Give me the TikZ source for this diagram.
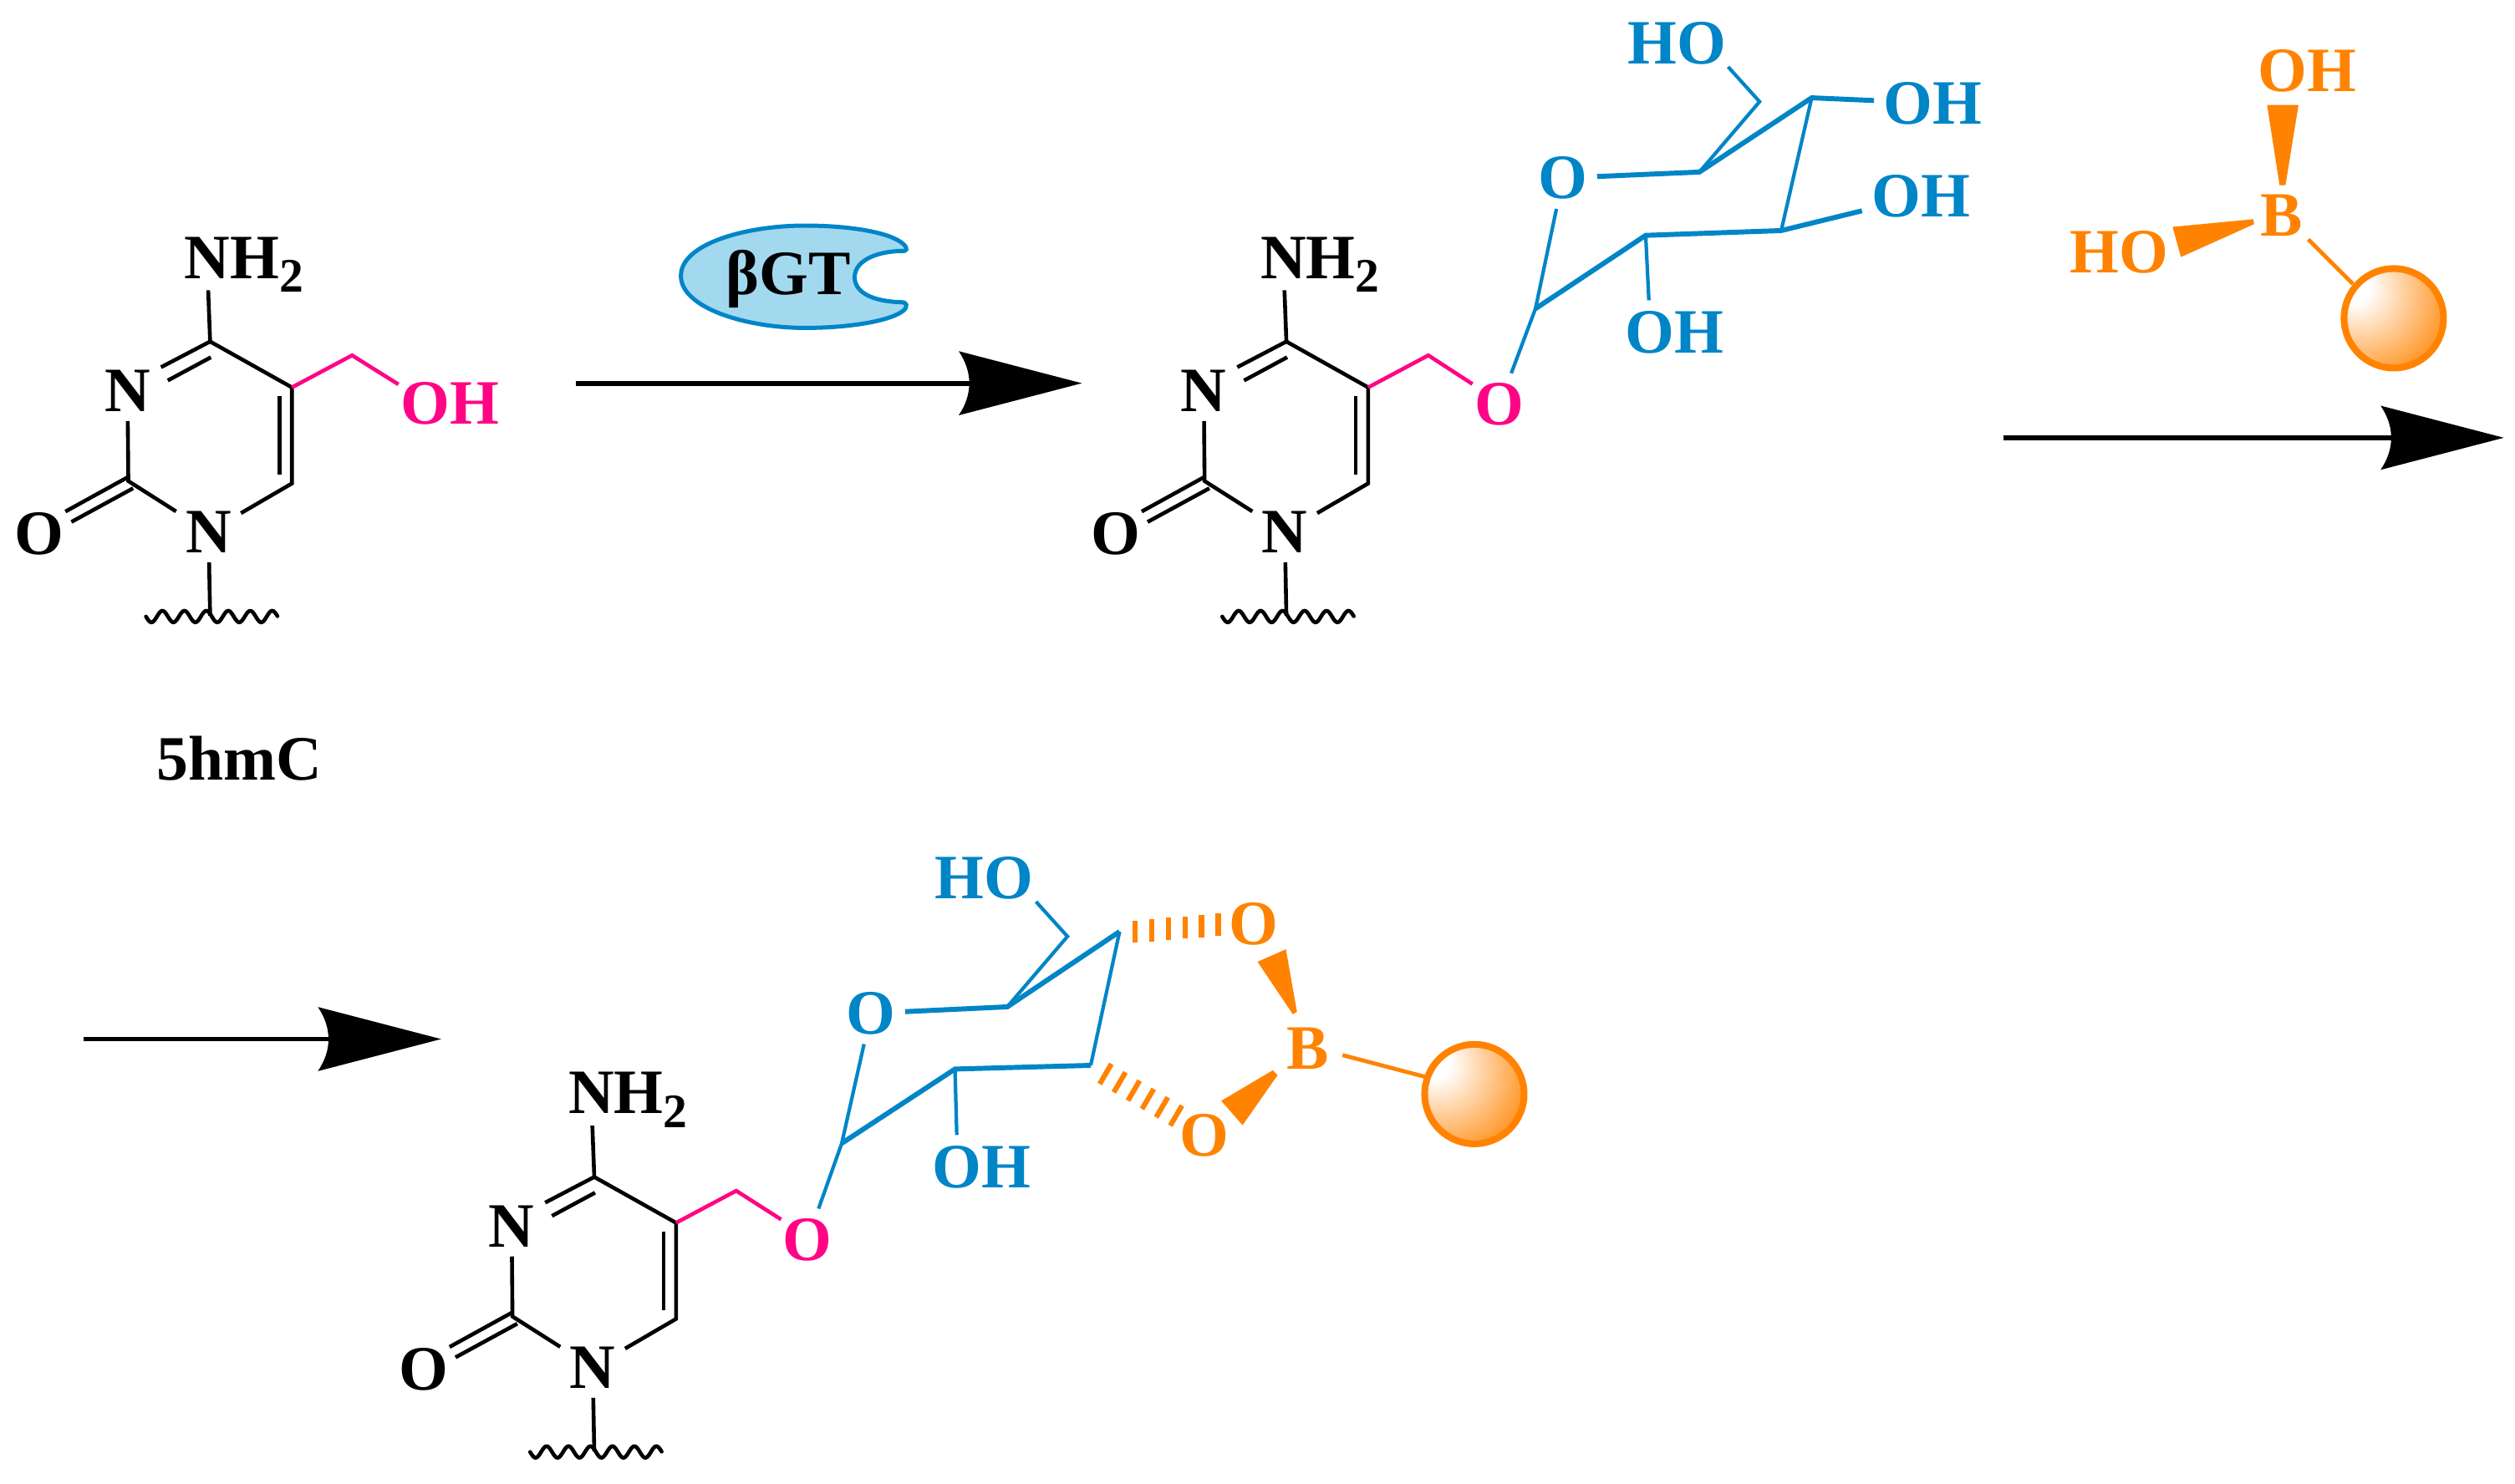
\documentclass[tikz,border=0pt]{standalone}
\usepackage{fontspec}
\setmainfont{Liberation Serif}
\definecolor{pinkc}{HTML}{FF0585}
\definecolor{bluec}{HTML}{0085C7}
\definecolor{orngc}{HTML}{FF8300}
\definecolor{enzc}{HTML}{A2D9EF}
\pgfdeclareradialshading{orb}{\pgfpoint{-22bp}{17bp}}{color(0bp)=(white);color(8bp)=(white);color(24bp)=(orngc!42);color(38bp)=(orngc!78);color(50bp)=(orngc);color(100bp)=(orngc)}
\tikzset{
  atom/.style={inner sep=0pt,outer sep=3pt,font=\fontsize{19.7}{20}\selectfont\bfseries},
  bond/.style={line width=1.2pt,line join=miter,black},
  thin bond/.style={line width=1.1pt},
  thick bond/.style={line width=1.55pt,line cap=butt},
  reactline/.style={line width=1.5pt,black},
  hash/.style={line width=1.6pt,orngc},
  pyr/.pic={
    \coordinate (-c4) at (131,213);
    \coordinate (-c5) at (182,241.6);
    \coordinate (-c6) at (182,301.5);
    \coordinate (-c2) at (80,300);
    \node[atom] (-n3) at (79.5,243.7) {N};
    \node[atom] (-n1) at (130,331.8) {N};
    \node[atom] (-o) at (24.4,333) {O};
    \node[atom,anchor=base west,outer sep=0pt] (-nh) at (115,173.6) {NH\raisebox{-4.2pt}{\fontsize{15}{15}\selectfont 2}};
    \coordinate (-nhb) at (129.8,181);
    \coordinate (-w0) at (131,384);
    \coordinate (-n3a) at (100.4,229);
    \coordinate (-i1) at (131.5,222.8);
    \coordinate (-i2) at (104.6,237.3);
    \coordinate (-i3) at (174.3,247);
    \coordinate (-i4) at (174.3,296);
    \coordinate (-d1) at (80,297.4);
    \coordinate (-d2) at (40.8,319);
    \coordinate (-d3) at (83,304.5);
    \coordinate (-d4) at (44.5,325.5);
    \draw[bond] (-nhb) -- (-c4) -- (-n3a);
    \draw[bond] (-i1) -- (-i2);
    \draw[bond] (-c4) -- (-c5) -- (-c6) -- (-n1);
    \draw[bond] (-i3) -- (-i4);
    \draw[bond] (-n3) -- (-c2) -- (-n1);
    \draw[bond] (-d1) -- (-d2);
    \draw[bond] (-d3) -- (-d4);
    \draw[bond] (-n1) -- (-w0);
    \draw[line width=1.2pt,black,line cap=round] plot[smooth,domain=0:82,samples=100] ({\x+91},{384.5+3.6*sin(\x*26.3)});
  },
  hd/.pic={
    \fill[black] (0,0) -- (-76.8,-20) .. controls (-68,-7) and (-68,7) .. (-76.8,20) -- cycle;
  },
}
\newcommand{\ball}[2]{%
  \shade[shading=orb] (#2) circle[radius=31];
  \draw[orngc,line width=2.1pt] (#2) circle[radius=31];
  \coordinate (#1) at (#2);
}
\begin{document}
\begin{tikzpicture}[x=0.5pt,y=-0.5pt]
\useasboundingbox (0,0) rectangle (1568,925);

% molecule 1
\pic (ma) at (0,0) {pyr};
\coordinate (ach) at (219.5,221.6);
\node[atom,text=pinkc] (aoh) at (280.5,251.7) {OH};
\coordinate (aohb) at (248.4,239.7);
\draw[line width=1.2pt,pinkc] (ma-c5) -- (ach) -- (aohb);
\node[atom,anchor=center] (lab) at (149,472.8) {5hmC};

% arrow 1 and enzyme
\coordinate (a1s) at (359,239);
\coordinate (a1t) at (674.5,239);
\coordinate (a1e) at (630,239);
\draw[reactline] (a1s) -- (a1e);
\pic at (a1t) {hd};
\draw[bluec,fill=enzc,line width=1.3pt]
  (424.5,172) .. controls (424.5,152) and (465,140.7) .. (502,140.7)
  .. controls (530,140.7) and (556,145) .. (563.5,152.5)
  .. controls (566,155) and (565.5,157) .. (562,156.5)
  .. controls (545,157) and (533,163) .. (532.8,172.9)
  .. controls (533,183) and (545,188) .. (562,188.5)
  .. controls (565.5,188.5) and (566,191) .. (563.5,193.5)
  .. controls (556,200) and (530,204.5) .. (502,204.5)
  .. controls (465,204.5) and (424.5,192) .. (424.5,172) -- cycle;
\node[atom] (enz) at (491.5,174) {βGT};

% molecule 2
\pic (mb) at (671,0) {pyr};
\coordinate (bch) at (890.5,221.6);
\node[atom,text=pinkc] (bo) at (935,252) {O};
\coordinate (bob) at (918,239.5);
\draw[line width=1.2pt,pinkc] (mb-c5) -- (bch) -- (bob);
\node[atom,text=bluec] (bor) at (974.4,111) {O};
\coordinate (b5) at (1059.5,107.3);
\coordinate (b6) at (1097,63.4);
\coordinate (b4) at (1129.5,61);
\coordinate (b3) at (1110.5,143.8);
\coordinate (b2) at (1026,146.8);
\coordinate (b1) at (957.3,192.5);
\node[atom,text=bluec] (bho) at (1045.4,27) {HO};
\coordinate (bhob) at (1077.4,41.7);
\node[atom,text=bluec] (boh4) at (1205,64.3) {OH};
\node[atom,text=bluec] (boh3) at (1197.5,122.5) {OH};
\node[atom,text=bluec] (boh2) at (1044,207.5) {OH};
\coordinate (boh2b) at (1028,187.3);
\draw[bluec,thin bond] (bo) -- (b1) -- (bor);
\draw[bluec,thin bond] (b5) -- (b6) -- (bhob);
\draw[bluec,thin bond] (b4) -- (b3);
\draw[bluec,thin bond] (b2) -- (boh2b);
\draw[bluec,thick bond] (bor) -- (b5) -- (b4) -- (boh4);
\draw[bluec,thick bond] (b1) -- (b2) -- (b3) -- (boh3);

% reagent
\node[atom,text=orngc] (rb) at (1422.6,134.6) {B};
\node[atom,text=orngc] (roh) at (1438.5,44.3) {OH};
\node[atom,text=orngc] (rho) at (1321,157.2) {HO};
\fill[orngc] (1413.4,65.5) -- (1433,65.5) -- (1424.9,115.5) -- (1421.2,115.5) -- cycle;
\fill[orngc] (1354.5,141.5) -- (1404.9,136.7) -- (1405.3,139.8) -- (1359.7,160.3) -- cycle;
\ball{rs}{1492.4,198.5}
\coordinate (rbb) at (1439.1,149.3);
\coordinate (rsb) at (1466.9,177.1);
\draw[orngc,line width=1.25pt] (rbb) -- (rsb);

% arrow 2
\coordinate (a2s) at (1249,273);
\coordinate (a2t) at (1561,273);
\coordinate (a2e) at (1516,273);
\draw[reactline] (a2s) -- (a2e);
\pic at (a2t) {hd};

% arrow 3
\coordinate (a3s) at (52,648);
\coordinate (a3t) at (275,648);
\coordinate (a3e) at (230,648);
\draw[reactline] (a3s) -- (a3e);
\pic at (a3t) {hd};

% molecule 3
\pic (mc) at (239.5,521) {pyr};
\coordinate (cch) at (459,742.6);
\node[atom,text=pinkc] (co) at (503.5,773) {O};
\coordinate (cob) at (487,760.5);
\draw[line width=1.2pt,pinkc] (mc-c5) -- (cch) -- (cob);
\node[atom,text=bluec] (cor) at (543,631.9) {O};
\coordinate (c5) at (628,627.9);
\coordinate (c6) at (665.5,584);
\coordinate (c4) at (698,581);
\coordinate (c3) at (680,664.4);
\coordinate (c2) at (595.4,666.7);
\coordinate (c1) at (524.8,713);
\node[atom,text=bluec] (cho) at (613.6,547.5) {HO};
\coordinate (chob) at (645.9,562.3);
\node[atom,text=bluec] (coh) at (612,728) {OH};
\coordinate (cohb) at (596.5,707.8);
\draw[bluec,thin bond] (co) -- (c1) -- (cor);
\draw[bluec,thin bond] (c5) -- (c6) -- (chob);
\draw[bluec,thin bond] (c4) -- (c3);
\draw[bluec,thin bond] (c2) -- (cohb);
\draw[bluec,thick bond] (cor) -- (c5) -- (c4);
\draw[bluec,thick bond] (c1) -- (c2) -- (c3);
\node[atom,text=orngc] (cbo) at (815.3,654) {B};
\node[atom,text=orngc] (co1) at (781.5,576.5) {O};
\node[atom,text=orngc] (co2) at (750.7,708.3) {O};
\foreach \i in {0,...,5} {
  \draw[hash] ({707.5+10.4*\i},{574-0.86*\i}) -- ({707.5+10.4*\i},{588-0.86*\i});
  \draw[hash] ({692.9+8.8*\i},{663.5+5.2*\i}) -- ({685.6+8.8*\i},{676+5.2*\i});
}
\fill[orngc] (784,599.8) -- (801.7,592) -- (808.6,631) -- (806,632.5) -- cycle;
\fill[orngc] (761.4,686.5) -- (793.5,667.5) -- (796.5,670.5) -- (774.7,701.7) -- cycle;
\ball{cs}{919.2,682.3}
\coordinate (cbb) at (837,658);
\coordinate (csb) at (889.9,671.9);
\draw[orngc,line width=1.25pt] (cbb) -- (csb);
\end{tikzpicture}
\end{document}
